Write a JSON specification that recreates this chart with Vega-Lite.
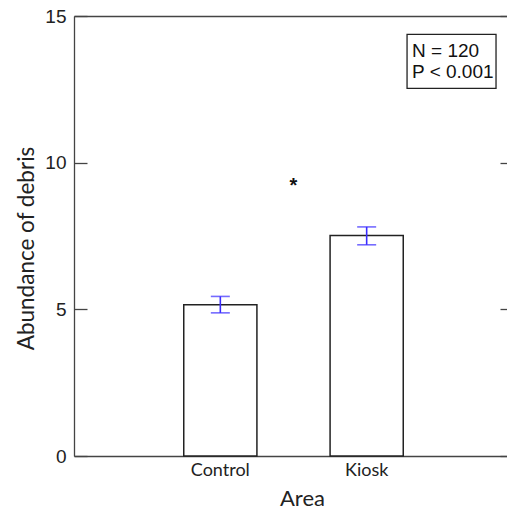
{
  "$schema": "https://vega.github.io/schema/vega-lite/v6.json",
  "width": 433,
  "height": 440,
  "autosize": {"type": "none"},
  "padding": {"left": 74, "top": 16, "right": 0, "bottom": 58},
  "background": "white",
  "config": {
    "view": {"stroke": null},
    "axis": {"domainColor": "#444", "tickColor": "#444", "domainWidth": 1.3, "tickWidth": 1.3, "grid": false}
  },
  "data": {
    "values": [
      {"area": "Control", "mean": 5.16, "lo": 4.88, "hi": 5.44},
      {"area": "Kiosk", "mean": 7.52, "lo": 7.2, "hi": 7.81}
    ]
  },
  "layer": [
    {
      "layer": [
        {
          "mark": {"type": "bar", "fill": "white", "stroke": "#222", "strokeWidth": 1.5},
          "encoding": {
            "x": {
              "field": "area", "type": "nominal",
              "scale": {"domain": ["Control", "Kiosk"], "range": [0, 439], "paddingInner": 0.5, "paddingOuter": 0.75},
              "axis": {
                "title": "Area", "ticks": false, "domain": true, "labelAngle": 0,
                "labelFont": "Lato", "labelFontSize": 18, "labelColor": "#222", "labelPadding": 5,
                "titleFont": "Lato", "titleFontSize": 22, "titleFontWeight": "normal", "titleColor": "#222",
                "titlePadding": 9, "titleX": 228
              }
            },
            "y": {
              "field": "mean", "type": "quantitative",
              "scale": {"domain": [0, 15], "nice": false, "zero": true},
              "axis": {
                "title": "Abundance of debris", "values": [0, 5, 10, 15], "tickSize": -13,
                "labelFont": "Liberation Sans", "labelFontSize": 19, "labelColor": "#222", "labelPadding": 21,
                "titleFont": "Lato", "titleFontSize": 22.5, "titleFontWeight": "normal", "titleColor": "#222",
                "titlePadding": 6, "titleY": 232
              }
            }
          }
        },
        {
          "mark": {"type": "rule", "color": "#3a2cff", "strokeWidth": 1.6},
          "encoding": {
            "x": {"field": "area", "type": "nominal"},
            "y": {"field": "lo", "type": "quantitative", "title": "Abundance of debris"},
            "y2": {"field": "hi"}
          }
        },
        {
          "mark": {"type": "tick", "color": "#3a2cff", "size": 19, "thickness": 1.6, "orient": "horizontal"},
          "encoding": {
            "x": {"field": "area", "type": "nominal"},
            "y": {"field": "lo", "type": "quantitative", "title": "Abundance of debris"}
          }
        },
        {
          "mark": {"type": "tick", "color": "#3a2cff", "size": 19, "thickness": 1.6, "orient": "horizontal"},
          "encoding": {
            "x": {"field": "area", "type": "nominal"},
            "y": {"field": "hi", "type": "quantitative", "title": "Abundance of debris"}
          }
        }
      ]
    },
    {
      "data": {"values": [{}]},
      "layer": [
        {
          "mark": {"type": "text", "text": "*", "fontSize": 20, "font": "Liberation Sans", "fontWeight": "bold", "baseline": "alphabetic", "align": "center", "color": "#111"},
          "encoding": {
            "x": {
              "datum": 1.5, "type": "quantitative",
              "scale": {"domain": [0, 3], "range": [0, 439], "nice": false, "zero": true},
              "axis": {"orient": "top", "labels": false, "ticks": false, "domain": true, "title": null}
            },
            "y": {
              "datum": 9.0, "type": "quantitative",
              "axis": {"orient": "right", "offset": 6, "labels": false, "domain": false, "tickSize": -13, "values": [0, 5, 10, 15], "title": null}
            }
          }
        },
        {
          "mark": {"type": "rect", "fill": "white", "stroke": "#222", "strokeWidth": 1.3},
          "encoding": {
            "x": {"datum": 2.276, "type": "quantitative"},
            "x2": {"datum": 2.884},
            "y": {"datum": 14.376, "type": "quantitative"},
            "y2": {"datum": 12.535}
          }
        },
        {
          "mark": {"type": "text", "text": ["N = 120", "P < 0.001"], "font": "Liberation Sans", "fontSize": 19, "align": "left", "baseline": "alphabetic", "lineHeight": 21, "color": "#111"},
          "encoding": {
            "x": {"datum": 2.31, "type": "quantitative"},
            "y": {"datum": 13.61, "type": "quantitative"}
          }
        }
      ]
    }
  ],
  "resolve": {"scale": {"x": "independent"}, "axis": {"y": "independent"}}
}
